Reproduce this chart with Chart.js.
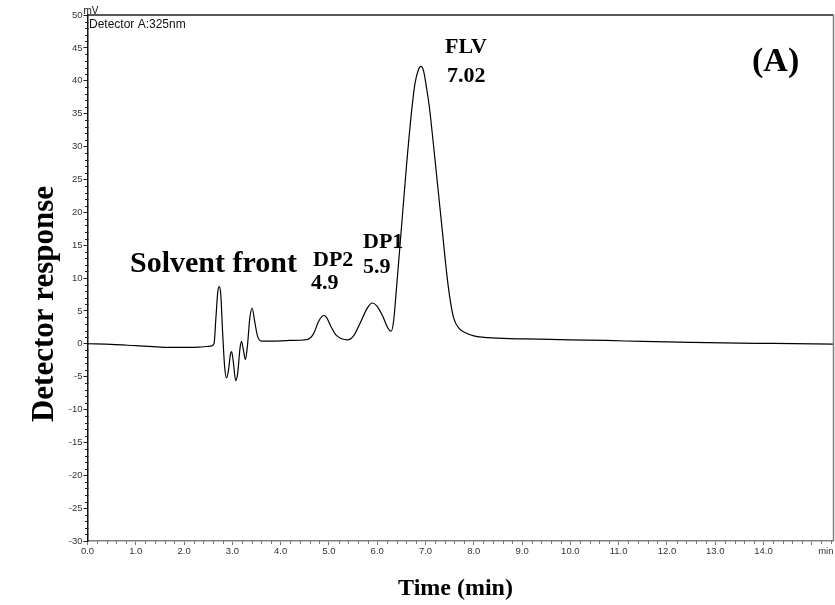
<!DOCTYPE html>
<html>
<head>
<meta charset="utf-8">
<title>Chromatogram</title>
<script src="https://cdn.jsdelivr.net/npm/chart.js@4.4.1/dist/chart.umd.min.js"></script>
<style>
  html, body { margin: 0; padding: 0; background: #fff; }
  canvas { display: block; }
</style>
</head>
<body>
<canvas id="chrom" width="835" height="605"></canvas>
<script>
// retention time (min) and detector signal (mV)
const times = [
  0.00, 0.50, 1.00, 1.50, 2.00, 2.30, 2.55, 2.62, 2.66, 2.70,
  2.73, 2.76, 2.80, 2.84, 2.88, 2.92, 2.96, 2.985, 3.02, 3.07,
  3.11, 3.16, 3.19, 3.23, 3.27, 3.31, 3.36, 3.41, 3.46, 3.52,
  3.60, 3.80, 4.20, 4.55, 4.68, 4.78, 4.86, 4.90, 4.95, 5.05,
  5.15, 5.25, 5.40, 5.52, 5.65, 5.80, 5.90, 6.00, 6.12, 6.22,
  6.29, 6.34, 6.40, 6.50, 6.60, 6.70, 6.78, 6.85, 6.905, 6.96,
  7.02, 7.08, 7.19, 7.33, 7.47, 7.58, 7.70, 7.85, 8.00, 8.50,
  9.37, 10.0, 10.75, 11.5, 12.5, 13.5, 14.2, 15.45
];
const signal = [
  0.0, -0.1, -0.3, -0.5, -0.55, -0.5, -0.35, 0.0, 4.0, 8.0,
  8.7, 7.5, 1.5, -3.5, -5.2, -4.0, -1.6, -1.2, -2.8, -5.6,
  -4.5, -0.6, 0.35, -1.0, -2.4, -0.5, 3.8, 5.4, 3.5, 1.2,
  0.4, 0.4, 0.5, 0.65, 1.5, 3.3, 4.2, 4.3, 4.0, 2.5,
  1.3, 0.8, 0.6, 1.3, 3.2, 5.5, 6.2, 5.7, 4.1, 2.4,
  1.9, 3.5, 8.5, 17.5, 26.5, 34.5, 39.5, 41.6, 42.2, 41.5,
  39.0, 36.0, 28.5, 18.5, 8.8, 4.0, 2.3, 1.6, 1.2, 0.85,
  0.7, 0.6, 0.5, 0.35, 0.2, 0.1, 0.05, -0.05
];

// axis ticks
const xMajorTicks = [0, 1, 2, 3, 4, 5, 6, 7, 8, 9, 10, 11, 12, 13, 14, 15];
const xTickLabels = ['0.0', '1.0', '2.0', '3.0', '4.0', '5.0', '6.0', '7.0',
  '8.0', '9.0', '10.0', '11.0', '12.0', '13.0', '14.0', ''];
const yMajorTicks = [-30, -25, -20, -15, -10, -5, 0, 5, 10, 15, 20, 25, 30, 35, 40, 45, 50];

// peak labels, first line / second line
const peakNames = ['DP2', 'DP1', 'FLV'];
const peakTimes = ['4.9', '5.9', '7.02'];

const points = times.map((t, i) => ({ x: t, y: signal[i] }));

// frame, minor ticks, axis titles and text annotations drawn on top of the chart
const chromExtras = {
  id: 'chromExtras',
  afterDraw(chart) {
    const ctx = chart.ctx;
    const area = chart.chartArea;
    const xs = chart.scales.x;
    const ys = chart.scales.y;
    ctx.save();

    // top and right border
    ctx.lineWidth = 1.5;
    ctx.strokeStyle = '#222';
    ctx.beginPath();
    ctx.moveTo(area.left, area.top);
    ctx.lineTo(area.right, area.top);
    ctx.stroke();
    ctx.strokeStyle = '#808080';
    ctx.beginPath();
    ctx.moveTo(area.right, area.top);
    ctx.lineTo(area.right, area.bottom);
    ctx.stroke();

    // minor ticks
    ctx.lineWidth = 1;
    ctx.strokeStyle = '#777';
    for (let i = 1; i < 78; i++) {
      if (i % 5 === 0) continue;
      const px = Math.round(xs.getPixelForValue(i * 0.2)) + 0.5;
      ctx.beginPath();
      ctx.moveTo(px, area.bottom);
      ctx.lineTo(px, area.bottom + 3);
      ctx.stroke();
    }
    ctx.strokeStyle = '#222';
    for (let v = -29; v < 50; v++) {
      if (v % 5 === 0) continue;
      const py = Math.round(ys.getPixelForValue(v)) + 0.5;
      ctx.beginPath();
      ctx.moveTo(area.left - 2.5, py);
      ctx.lineTo(area.left + 1, py);
      ctx.stroke();
    }

    // small sans text
    ctx.fillStyle = '#111';
    ctx.textBaseline = 'alphabetic';
    ctx.textAlign = 'left';
    ctx.font = '10px "Liberation Sans", Arial, sans-serif';
    ctx.fillText('mV', area.left - 4, area.top - 1);
    ctx.font = '12px "Liberation Sans", Arial, sans-serif';
    ctx.fillText('Detector A:325nm', area.left + 1.5, area.top + 12.5);
    ctx.textAlign = 'right';
    ctx.font = '9.5px "Liberation Sans", Arial, sans-serif';
    ctx.fillStyle = '#333';
    ctx.fillText('min', area.right, area.bottom + 13);

    // axis titles
    ctx.fillStyle = '#000';
    ctx.textAlign = 'center';
    ctx.textBaseline = 'middle';
    ctx.font = 'bold 24px "Liberation Serif", "Times New Roman", serif';
    ctx.fillText('Time (min)', 455.5, 589);
    ctx.save();
    ctx.translate(45, 304);
    ctx.rotate(-Math.PI / 2);
    ctx.font = 'bold 31px "Liberation Serif", "Times New Roman", serif';
    ctx.fillText('Detector response', 0, 0);
    ctx.restore();

    // bold serif annotations
    ctx.textAlign = 'left';
    ctx.textBaseline = 'alphabetic';
    ctx.font = 'bold 30px "Liberation Serif", "Times New Roman", serif';
    ctx.fillText('Solvent front', 130, 272);

    ctx.font = 'bold 22px "Liberation Serif", "Times New Roman", serif';
    const nameAt = [[313, 266], [363, 248], [445, 53]];
    const timeAt = [[311, 289], [363, 273], [447, 82]];
    peakNames.forEach((n, i) => ctx.fillText(n, nameAt[i][0], nameAt[i][1]));
    peakTimes.forEach((n, i) => ctx.fillText(n, timeAt[i][0], timeAt[i][1]));

    ctx.font = 'bold 34px "Liberation Serif", "Times New Roman", serif';
    ctx.fillText('(A)', 752, 71);
    ctx.restore();
  }
};

new Chart(document.getElementById('chrom'), {
  type: 'line',
  data: {
    datasets: [{
      label: 'Detector A:325nm',
      data: points,
      borderColor: '#000',
      borderWidth: 1.2,
      pointRadius: 0,
      fill: false,
      cubicInterpolationMode: 'monotone'
    }]
  },
  options: {
    responsive: false,
    animation: false,
    layout: { padding: { top: 15, right: 1.5, left: 0, bottom: 0 } },
    plugins: {
      legend: { display: false },
      tooltip: { enabled: false }
    },
    scales: {
      x: {
        type: 'linear',
        min: 0,
        max: 15.45,
        afterBuildTicks: s => { s.ticks = xMajorTicks.map(v => ({ value: v })); },
        afterFit: s => { s.height = 64; },
        grid: { drawOnChartArea: false, drawTicks: true, tickLength: 4, tickColor: '#777' },
        border: { display: true, color: '#808080', width: 1.5 },
        ticks: {
          autoSkip: false,
          maxRotation: 0,
          padding: 1,
          color: '#333',
          font: { family: 'Liberation Sans', size: 9.5 },
          callback: (v) => xTickLabels[xMajorTicks.indexOf(v)]
        }
      },
      y: {
        min: -30,
        max: 50,
        afterBuildTicks: s => { s.ticks = yMajorTicks.map(v => ({ value: v })); },
        afterFit: s => { s.width = 87.5; },
        grid: { drawOnChartArea: false, drawTicks: true, tickLength: 4, tickColor: '#222' },
        border: { display: true, color: '#111', width: 1.5 },
        ticks: {
          padding: 1,
          color: '#333',
          font: { family: 'Liberation Sans', size: 9.5 },
          callback: (v) => String(v)
        }
      }
    }
  },
  plugins: [chromExtras]
});
</script>
</body>
</html>
